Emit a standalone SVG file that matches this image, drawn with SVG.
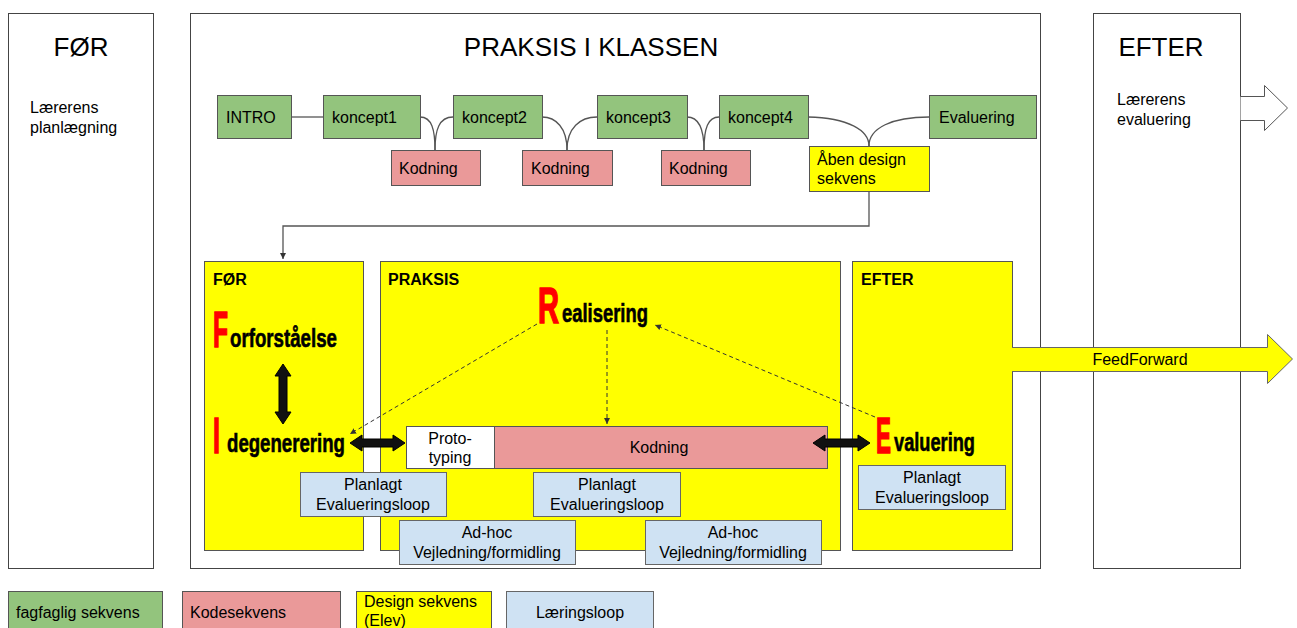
<svg xmlns="http://www.w3.org/2000/svg" width="1297" height="628" viewBox="0 0 1297 628">
  <style>
    text { font-family: "Liberation Sans", Arial, sans-serif; fill: #000; }
    .frame { fill: #fff; stroke: #444; stroke-width: 1; }
    .green { fill: #93c47d; stroke: #555; stroke-width: 1; }
    .pink { fill: #ea9999; stroke: #555; stroke-width: 1; }
    .yellow { fill: #ffff00; stroke: #555; stroke-width: 1; }
    .blue { fill: #cfe2f3; stroke: #666; stroke-width: 1; }
    .white { fill: #fff; stroke: #555; stroke-width: 1; }
    .t16 { font-size: 16px; }
    .lbl { font-size: 16px; font-weight: bold; }
    .big { font-size: 26px; font-weight: bold; stroke: #000; stroke-width: 0.6; }
    .cap { font-size: 50px; font-weight: bold; fill: #ff0000; stroke: #ff0000; stroke-width: 1.6; }
    .conn { fill: none; stroke: #555; stroke-width: 1.3; }
    .dash { fill: none; stroke: #333; stroke-width: 1; stroke-dasharray: 4 3; }
    .fat { fill: #111; stroke: #000; stroke-width: 1; }
  </style>
  <defs>
    <marker id="ah" markerWidth="8" markerHeight="8" refX="6" refY="4" orient="auto" markerUnits="userSpaceOnUse">
      <path d="M0,1 L6,4 L0,7 Z" fill="#333"/>
    </marker>
  </defs>

  <!-- outer phase frames -->
  <g id="before">
    <rect class="frame" x="8.5" y="13.5" width="145" height="555"/>
    <text x="81" y="56" font-size="26" text-anchor="middle">FØR</text>
    <text class="t16" x="30" y="113">Lærerens</text>
    <text class="t16" x="30" y="133">planlægning</text>
  </g>
  <g id="practice">
    <rect class="frame" x="190.5" y="13.5" width="850" height="555"/>
    <text x="591" y="56" font-size="26" text-anchor="middle">PRAKSIS I KLASSEN</text>
  </g>
  <g id="after">
    <rect class="frame" x="1093.5" y="13.5" width="147" height="555"/>
    <text x="1161" y="56" font-size="26" text-anchor="middle">EFTER</text>
    <text class="t16" x="1117" y="105">Lærerens</text>
    <text class="t16" x="1117" y="125">evaluering</text>
    <path d="M1240.5,96.5 H1264.5 V85.5 L1287.5,108 L1264.5,130.5 V120.5 H1240.5" fill="#fff" stroke="#555" stroke-width="1"/>
  </g>

  <!-- sequence row -->
  <g id="intro"><rect class="green" x="217.5" y="95.5" width="74" height="43"/><text class="t16" x="226" y="123">INTRO</text></g>
  <g id="koncept1"><rect class="green" x="323.5" y="95.5" width="97" height="43"/><text class="t16" x="332" y="123">koncept1</text></g>
  <g id="koncept2"><rect class="green" x="453.5" y="95.5" width="89" height="43"/><text class="t16" x="462" y="123">koncept2</text></g>
  <g id="koncept3"><rect class="green" x="597.5" y="95.5" width="90" height="43"/><text class="t16" x="606" y="123">koncept3</text></g>
  <g id="koncept4"><rect class="green" x="719.5" y="95.5" width="89" height="43"/><text class="t16" x="728" y="123">koncept4</text></g>
  <g id="evaluering-top"><rect class="green" x="929.5" y="95.5" width="107" height="43"/><text class="t16" x="939" y="123">Evaluering</text></g>
  <g id="kodning1"><rect class="pink" x="391.5" y="150.5" width="89" height="35"/><text class="t16" x="399" y="174">Kodning</text></g>
  <g id="kodning2"><rect class="pink" x="522.5" y="150.5" width="90" height="35"/><text class="t16" x="531" y="174">Kodning</text></g>
  <g id="kodning3"><rect class="pink" x="661.5" y="150.5" width="89" height="35"/><text class="t16" x="669" y="174">Kodning</text></g>
  <g id="aaben"><rect class="yellow" x="809.5" y="146.5" width="120" height="45"/><text class="t16" x="817" y="165">Åben design</text><text class="t16" x="817" y="184">sekvens</text></g>

  <!-- design sequence phases -->
  <g id="phase-foer">
    <rect class="yellow" x="204.5" y="261.5" width="159" height="289"/>
    <text class="lbl" x="213" y="285">FØR</text>
    <text class="cap" x="213" y="347" textLength="15" lengthAdjust="spacingAndGlyphs">F</text>
    <text class="big" x="230" y="347" textLength="107" lengthAdjust="spacingAndGlyphs">orforståelse</text>
    <text class="cap" x="213" y="453" textLength="7" lengthAdjust="spacingAndGlyphs">I</text>
    <text class="big" x="227" y="452" textLength="118" lengthAdjust="spacingAndGlyphs">degenerering</text>
    <path class="fat" d="M283,364 L291,376 L287,376 L287,412 L291,412 L283,424 L275,412 L279,412 L279,376 L275,376 Z"/>
  </g>
  <g id="phase-praksis">
    <rect class="yellow" x="380.5" y="261.5" width="460" height="289"/>
    <text class="lbl" x="388" y="285">PRAKSIS</text>
    <text class="cap" x="538" y="323" textLength="21" lengthAdjust="spacingAndGlyphs">R</text>
    <text class="big" x="562" y="322" textLength="86" lengthAdjust="spacingAndGlyphs">ealisering</text>
  </g>
  <g id="phase-efter">
    <rect class="yellow" x="852.5" y="261.5" width="160" height="289"/>
    <text class="lbl" x="861" y="285">EFTER</text>
    <text class="cap" x="876" y="453" textLength="15" lengthAdjust="spacingAndGlyphs">E</text>
    <text class="big" x="894" y="451" textLength="81" lengthAdjust="spacingAndGlyphs">valuering</text>
  </g>

  <!-- connectors -->
  <g id="connectors">
    <line class="conn" x1="291" y1="117" x2="323" y2="117"/>
    <path class="conn" d="M420,117 C432,117 435,130 435,150"/>
    <path class="conn" d="M453,117 C439,117 435,130 435,150"/>
    <path class="conn" d="M542,117 C556,117 567,128 567,150"/>
    <path class="conn" d="M597,117 C580,117 567,128 567,150"/>
    <path class="conn" d="M687,117 C698,117 704,128 704,150"/>
    <path class="conn" d="M719,117 C708,117 704,128 704,150"/>
    <path class="conn" d="M808,117 C848,118 869,130 869,146"/>
    <path class="conn" d="M929,117 C892,117 869,128 869,146"/>
    <path class="conn" d="M869,191 V226 H283 V259" marker-end="url(#ah)" stroke-width="1"/>
    <line class="dash" x1="537" y1="324" x2="350" y2="434" marker-end="url(#ah)"/>
    <line class="dash" x1="607" y1="330" x2="607" y2="424" marker-end="url(#ah)"/>
    <line class="dash" x1="875" y1="417" x2="655" y2="325" marker-end="url(#ah)"/>
  </g>

  <g id="prototyping"><rect class="white" x="406.5" y="426.5" width="88" height="42"/><text class="t16" x="450" y="444" text-anchor="middle">Proto-</text><text class="t16" x="450" y="463" text-anchor="middle">typing</text></g>
  <g id="kodning-main"><rect class="pink" x="494.5" y="426.5" width="333" height="42"/><text class="t16" x="659" y="453" text-anchor="middle">Kodning</text></g>

  <g id="link-ide-proto"><path class="fat" d="M350,443 L362,435 L362,439 L393,439 L393,435 L405,443 L393,451 L393,447 L362,447 L362,451 Z"/></g>
  <g id="link-kod-eval"><path class="fat" d="M813,443 L825,435 L825,439 L858,439 L858,435 L870,443 L858,451 L858,447 L825,447 L825,451 Z"/></g>

  <g id="planlagt1"><rect class="blue" x="300.5" y="472.5" width="146" height="44"/><text class="t16" x="373" y="490" text-anchor="middle">Planlagt</text><text class="t16" x="373" y="510" text-anchor="middle">Evalueringsloop</text></g>
  <g id="planlagt2"><rect class="blue" x="533.5" y="472.5" width="147" height="44"/><text class="t16" x="607" y="490" text-anchor="middle">Planlagt</text><text class="t16" x="607" y="510" text-anchor="middle">Evalueringsloop</text></g>
  <g id="planlagt3"><rect class="blue" x="858.5" y="465.5" width="147" height="44"/><text class="t16" x="932" y="483" text-anchor="middle">Planlagt</text><text class="t16" x="932" y="503" text-anchor="middle">Evalueringsloop</text></g>
  <g id="adhoc1"><rect class="blue" x="399.5" y="520.5" width="176" height="44"/><text class="t16" x="487" y="538" text-anchor="middle">Ad-hoc</text><text class="t16" x="487" y="558" text-anchor="middle">Vejledning/formidling</text></g>
  <g id="adhoc2"><rect class="blue" x="645.5" y="520.5" width="176" height="44"/><text class="t16" x="733" y="538" text-anchor="middle">Ad-hoc</text><text class="t16" x="733" y="558" text-anchor="middle">Vejledning/formidling</text></g>

  <g id="feedforward">
    <path d="M1012,347.5 H1267.5 V334.5 L1292.5,359 L1267.5,383.5 V371.5 H1012" fill="#ffff00" stroke="#666" stroke-width="1"/>
    <text class="t16" x="1140" y="365" text-anchor="middle">FeedForward</text>
  </g>

  <!-- legend -->
  <g id="legend">
    <rect class="green" x="8.5" y="591.5" width="154" height="45"/><text class="t16" x="16" y="618">fagfaglig sekvens</text>
    <rect class="pink" x="182.5" y="591.5" width="158" height="45"/><text class="t16" x="190" y="618">Kodesekvens</text>
    <rect class="yellow" x="356.5" y="591.5" width="135" height="45"/><text class="t16" x="364" y="607">Design sekvens</text><text class="t16" x="364" y="626">(Elev)</text>
    <rect class="blue" x="506.5" y="591.5" width="147" height="45"/><text class="t16" x="580" y="618" text-anchor="middle">Læringsloop</text>
  </g>
</svg>
